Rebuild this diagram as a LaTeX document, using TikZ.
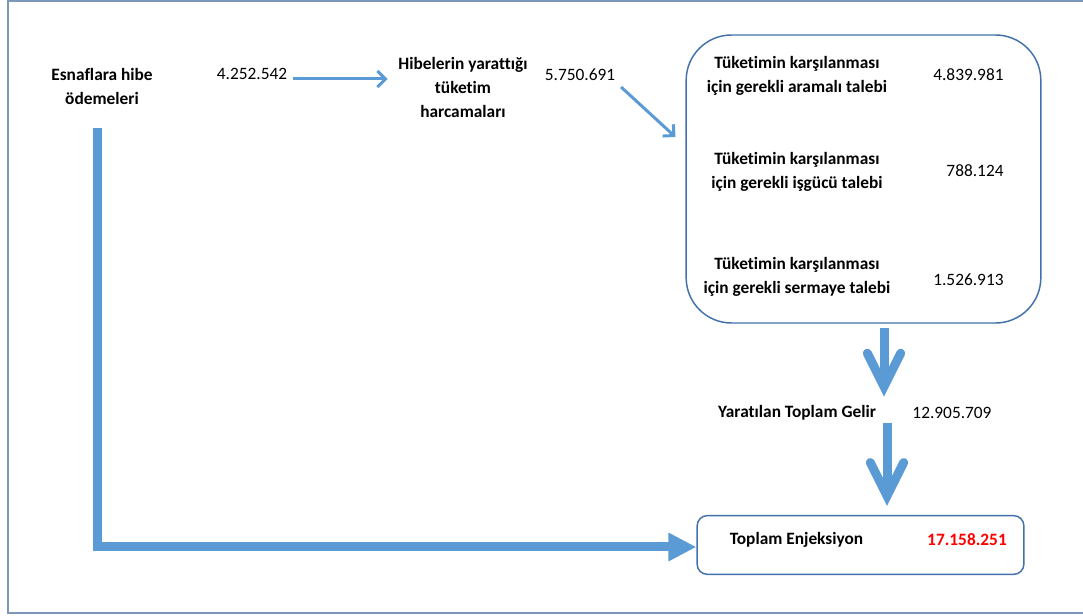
\documentclass[tikz,border=0pt]{standalone}
\usepackage{fontspec}
\setmainfont[Ligatures={NoCommon}]{Carlito}
\usetikzlibrary{arrows.meta,positioning,calc}

\definecolor{arrblue}{RGB}{91,155,213}
\definecolor{boxblue}{RGB}{65,113,170}
\definecolor{framegray}{RGB}{125,150,185}

\begin{document}
\begin{tikzpicture}[x=0.75pt,y=-0.75pt,
  lbl/.style={font=\fontsize{13}{18}\selectfont\bfseries, align=center, inner sep=2pt},
  num/.style={font=\fontsize{13}{18}\selectfont, inner sep=2pt},
  thinarr/.style={draw=arrblue, line width=2.25pt, -{Straight Barb[length=6pt,width=12pt]}},
  fatarr/.style={draw=arrblue, line width=6.75pt, -{Straight Barb[length=25pt,width=25pt,line cap=round]}},
  lfarr/.style={draw=arrblue, line width=6.75pt, -{Triangle[length=21pt,width=20pt]}}
  ]

  \useasboundingbox (0,0) rectangle (1083,616);
  \draw[framegray, line width=1.1pt] (1083,1) -- (8,1) -- (8,613) -- (1083,613);

  \coordinate (BX1) at (863.5,179);  % big box
  \coordinate (BX2) at (860.5,545);  % result box

  %% top row
  \node [lbl] (esnaf) at (102,86) {Esnaflara hibe\\ödemeleri};
  \node [num] (amt1) at (252,74) {4.252.542};
  \node [lbl] (hibe) at (463,87) {Hibelerin yarattığı\\tüketim\\harcamaları};
  \node [num] (amt2) at (580,75) {5.750.691};

  %% demand box
  \node [draw=boxblue, line width=1.1pt, rounded corners=34pt,
    minimum width=266pt, minimum height=216pt] (talep) at (BX1) {};

  \node [lbl] (aram) at ($(BX1) + (-66.5,-103.5)$) {Tüketimin karşılanması\\için gerekli aramalı talebi};
  \node [num, anchor=east] (aramN) at ($(BX1) + (143,-104)$) {4.839.981};

  \node [lbl] (isgucu) at ($(BX1) + (-66.5,-7)$) {Tüketimin karşılanması\\için gerekli işgücü talebi};
  \node [num, anchor=east] (isgucuN) at ($(BX1) + (143,-8)$) {788.124};

  \node [lbl] (sermaye) at ($(BX1) + (-66.5,98)$) {Tüketimin karşılanması\\için gerekli sermaye talebi};
  \node [num, anchor=east] (sermayeN) at ($(BX1) + (143,101)$) {1.526.913};

  %% income
  \node [lbl] (gelir) at (797,413) {Yaratılan Toplam Gelir};
  \node [num] (gelirN) at (952,413) {12.905.709};

  %% injection box
  \node [draw=boxblue, line width=1.1pt, rounded corners=7.5pt,
    minimum width=245pt, minimum height=44pt] (enj) at (BX2) {};
  \node [lbl] (enjT) at ($(BX2) + (-64,-5)$) {Toplam Enjeksiyon};
  \node [lbl, text=red] (enjN) at ($(BX2) + (106.5,-5)$) {17.158.251};

  %% arrows
  \draw[thinarr] ($(amt1.east) + (3,5)$) -- ($(amt1.east -| hibe.west) + (-8,5)$);
  \draw[thinarr] ($(amt2.east) + (3,12)$) -- ($(talep.west) + (-10,-42)$);

  \draw[fatarr] ($(talep.south) + (20.5,4)$) -- ($(gelir.north -| talep.south) + (20.5,-6)$);
  \draw[fatarr] ($(gelir.south -| talep.south) + (23.5,0)$) -- ($(enj.north) + (26.5,-9)$);

  \draw[lfarr] ($(esnaf) + (-5,42)$) |- ($(enj.west) + (0,2)$);

\end{tikzpicture}
\end{document}
